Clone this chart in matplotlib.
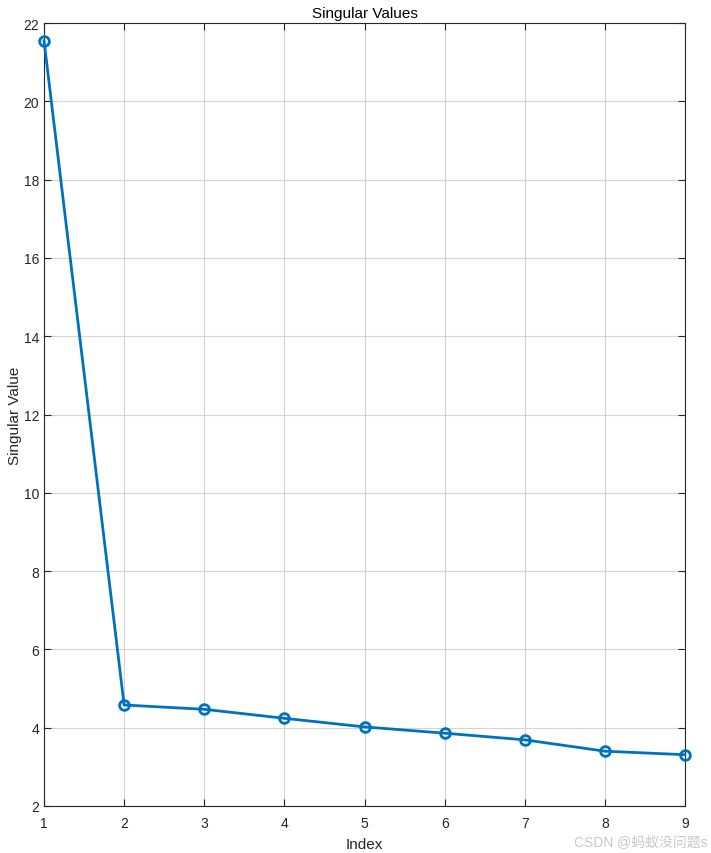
import numpy as np
import matplotlib.pyplot as plt

# Singular values
idx = [1, 2, 3, 4, 5, 6, 7, 8, 9]
sv = [21.55, 4.58, 4.47, 4.24, 4.02, 3.86, 3.69, 3.40, 3.31]

plt.rcParams['font.family'] = ['Liberation Sans', 'Noto Sans CJK SC', 'DejaVu Sans']

fig = plt.figure(figsize=(7.11, 8.54), dpi=100)
ax = fig.add_axes([44 / 711, 1 - 807 / 854, (685 - 44) / 711, (807 - 24) / 854])

ax.plot(idx, sv, '-o', color='#0072BD', linewidth=2, markersize=7,
        markerfacecolor='none', markeredgewidth=2, clip_on=False, zorder=3)

ax.set_xlim(1, 9)
ax.set_ylim(2, 22)
ax.set_xticks(range(1, 10))
ax.set_yticks(range(2, 23, 2))
ax.grid(True, color='#d4d4d4', linewidth=0.8)
ax.tick_params(direction='in', top=True, right=True, labelsize=10,
               colors='#262626', length=5, width=0.8)
ax.tick_params(axis='x', pad=7)
for s in ax.spines.values():
    s.set_color('#262626')
    s.set_linewidth(0.8)

ax.set_xlabel('Index', fontsize=11, color='#262626', labelpad=5)
ax.set_ylabel('Singular Value', fontsize=11, color='#262626', labelpad=1)
ax.set_title('Singular Values', fontsize=11, color='black', pad=4)

# watermark
fig.text(0.995, 1 - 842 / 854, 'CSDN @蚂蚁没问题s', ha='right', va='center',
         fontsize=10, color='#c8c8c8')

fig.savefig('out.png', dpi=100)
